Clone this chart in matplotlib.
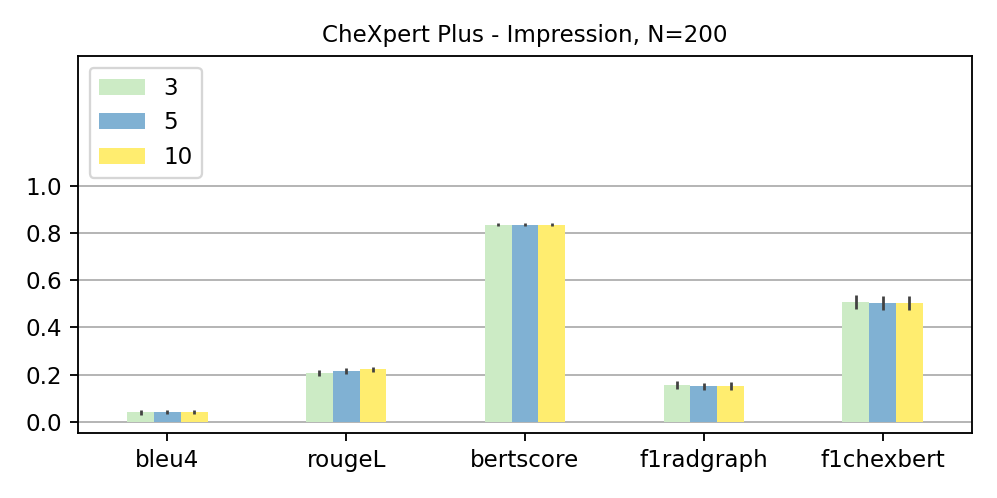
import matplotlib
matplotlib.use("Agg")
import matplotlib.pyplot as plt
import numpy as np

metrics = ["bleu4", "rougeL", "bertscore", "f1radgraph", "f1chexbert"]
series_names = ["3", "5", "10"]
vals_3 = [0.041, 0.206, 0.835, 0.157, 0.508]
vals_5 = [0.042, 0.215, 0.835, 0.150, 0.505]
vals_10 = [0.042, 0.222, 0.835, 0.153, 0.505]
err_3 = [0.010, 0.012, 0.007, 0.016, 0.029]
err_5 = [0.010, 0.012, 0.007, 0.016, 0.029]
err_10 = [0.010, 0.012, 0.007, 0.016, 0.029]

colors = ["#ccebc5", "#80b1d3", "#ffed6f"]

DPI = 166
fig = plt.figure(figsize=(997/DPI, 498/DPI), dpi=DPI)
ax = fig.add_axes([78/997, 65/498, (972-78)/997, (433-56)/498])

x = np.arange(len(metrics))
w = 0.15
for i, (v, e, name) in enumerate(zip([vals_3, vals_5, vals_10], [err_3, err_5, err_10], series_names)):
    ax.bar(x + (i - 1) * w, v, w, yerr=e, color=colors[i], label=name,
           error_kw=dict(ecolor="#424242", elinewidth=1.2, capsize=0), zorder=2)

ax.set_xlim(-0.5, 4.5)
ax.set_ylim(-0.047, 1.55)
ax.set_yticks([0.0, 0.2, 0.4, 0.6, 0.8, 1.0])
ax.set_yticklabels(["0.0", "0.2", "0.4", "0.6", "0.8", "1.0"])
ax.set_xticks(x)
ax.set_xticklabels(metrics)
ax.tick_params(labelsize=10)
ax.yaxis.grid(True, color="#b0b0b0", linewidth=0.8, zorder=0)
ax.set_axisbelow(True)
ax.set_title("CheXpert Plus - Impression, N=200", fontsize=10)
ax.legend(loc="upper left", fontsize=10)

fig.savefig("out.png", dpi=DPI)
